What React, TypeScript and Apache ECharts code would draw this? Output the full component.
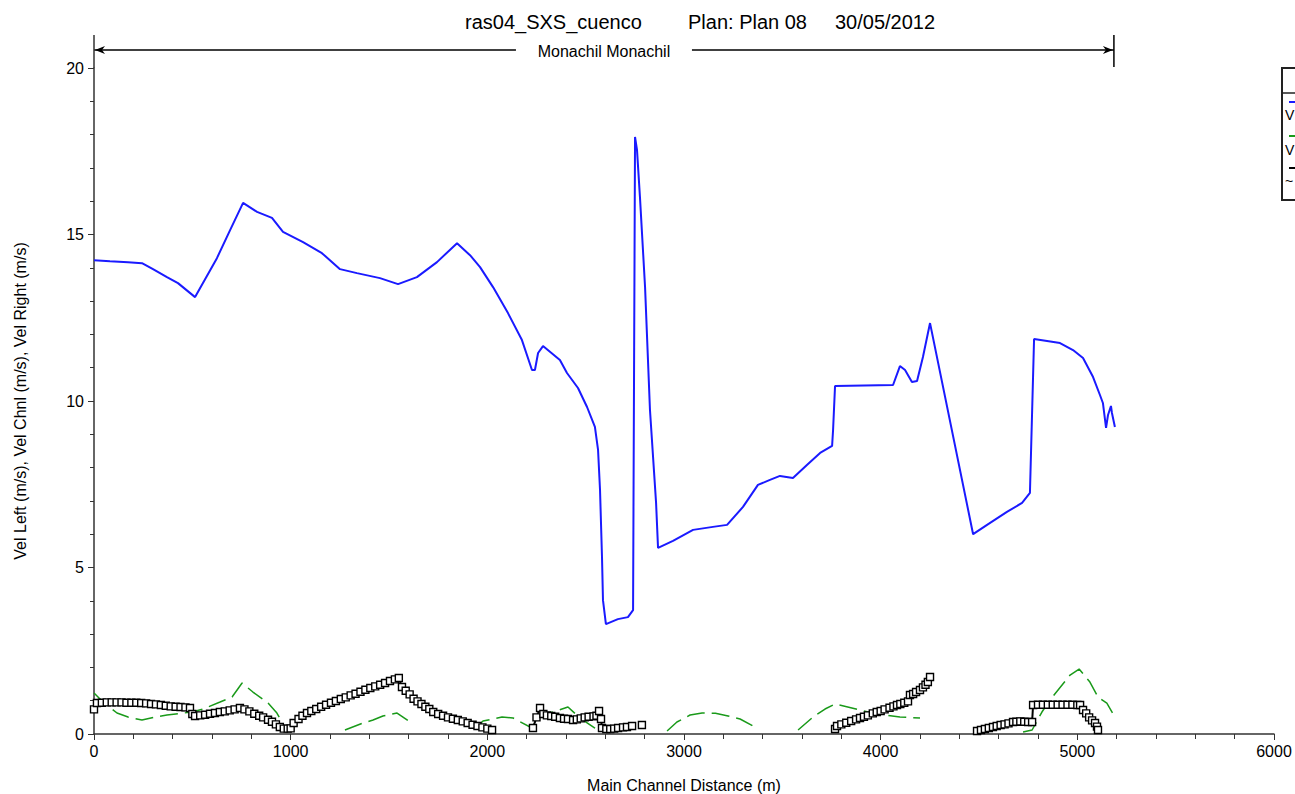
import React, { useEffect, useRef } from "react";
import * as echarts from "echarts";

const FONT = "'Liberation Sans', Arial, sans-serif";

const titleParts = ["ras04_SXS_cuenco", "Plan: Plan 08", "30/05/2012"];
const reachName = "Monachil Monachil";
const reachStart = 0;
const reachEnd = 5186;

// Vel Chnl (blue)
const chnlX = [0, 81, 173, 244, 300, 371, 427, 514, 625, 692, 758, 829, 905, 961, 1063, 1159, 1251, 1337, 1454, 1546, 1642, 1744, 1846, 1912, 1963, 2029, 2105, 2176, 2227, 2242, 2258, 2283, 2369, 2405, 2461, 2507, 2547, 2563, 2573, 2583, 2588, 2603, 2664, 2715, 2741, 2751, 2761, 2776, 2802, 2827, 2858, 2868, 2944, 3046, 3147, 3219, 3300, 3376, 3437, 3488, 3554, 3625, 3692, 3753, 3758, 3768, 4063, 4098, 4124, 4159, 4185, 4215, 4251, 4470, 4541, 4642, 4719, 4759, 4780, 4846, 4912, 4978, 5029, 5080, 5115, 5130, 5146, 5156, 5171, 5176, 5191];
const chnlY = [14.23, 14.2, 14.17, 14.14, 13.96, 13.72, 13.54, 13.12, 14.29, 15.13, 15.95, 15.68, 15.5, 15.08, 14.77, 14.44, 13.96, 13.84, 13.69, 13.51, 13.72, 14.17, 14.74, 14.38, 14.02, 13.42, 12.64, 11.83, 10.93, 10.93, 11.44, 11.65, 11.23, 10.84, 10.39, 9.82, 9.22, 8.53, 7.33, 5.32, 4.02, 3.3, 3.45, 3.51, 3.72, 17.93, 17.54, 16.13, 13.42, 9.73, 6.94, 5.59, 5.8, 6.13, 6.22, 6.28, 6.82, 7.48, 7.63, 7.75, 7.69, 8.08, 8.44, 8.65, 9.13, 10.45, 10.48, 11.05, 10.93, 10.57, 10.6, 11.32, 12.34, 6.0, 6.28, 6.67, 6.94, 7.24, 11.86, 11.8, 11.74, 11.53, 11.29, 10.72, 10.18, 9.94, 9.19, 9.58, 9.85, 9.64, 9.22];

// Vel Left (green dashed), null = gap
const leftX = [0, 46, 117, 173, 244, 310, 371, 498, 554, 641, 702, 753, 808, 885, 930, 956, 1100, 1276, 1368, 1419, 1469, 1541, 1607, 1780, 1937, 1978, 2075, 2131, 2227, 2258, 2334, 2410, 2471, 2547, 2583, 2640, 2700, 2741, 2830, 2914, 2964, 3031, 3092, 3160, 3224, 3285, 3361, 3470, 3580, 3656, 3717, 3768, 3895, 3981, 4098, 4200, 4460, 4724, 4770, 4820, 4861, 4963, 5009, 5064, 5105, 5150, 5191];
const leftY = [1.23, 0.96, 0.63, 0.51, 0.42, 0.51, 0.57, 0.66, 0.75, 0.96, 1.11, 1.53, 1.26, 0.93, 0.63, 0.36, null, 0.12, 0.33, 0.42, 0.54, 0.63, 0.36, null, 0.15, 0.39, 0.51, 0.48, 0.18, 0.57, 0.66, 0.81, 0.48, 0.18, 0.08, 0.12, 0.2, 0.24, null, 0.09, 0.36, 0.57, 0.63, 0.62, 0.54, 0.45, 0.21, null, 0.12, 0.51, 0.75, 0.9, 0.72, 0.6, 0.51, 0.48, null, 0.06, 0.12, 0.66, 1.02, 1.77, 1.95, 1.56, 1.11, 0.93, 0.51];

// Vel Right (black squares), null = gap
const rightX = [0, 15, 40, 65, 90, 115, 140, 165, 190, 215, 240, 265, 290, 315, 340, 365, 390, 415, 440, 465, 488, 500, 514, 540, 565, 590, 615, 640, 665, 690, 715, 742, 765, 790, 815, 840, 860, 885, 905, 925, 945, 965, 985, 1000, 1015, 1040, 1060, 1083, 1105, 1130, 1155, 1180, 1205, 1230, 1255, 1280, 1305, 1330, 1355, 1380, 1405, 1430, 1455, 1480, 1505, 1530, 1550, 1566, 1585, 1605, 1625, 1645, 1665, 1685, 1705, 1725, 1750, 1775, 1800, 1825, 1850, 1875, 1900, 1925, 1950, 1975, 2000, 2024,
  2130,
  2232, 2250, 2268, 2285, 2303, 2325, 2345, 2369, 2390, 2410, 2436, 2455, 2475, 2495, 2515, 2540, 2555, 2568, 2578, 2583, 2605, 2625, 2645, 2665, 2690, 2710, 2736,
  2760, 2786, 3300,
  3768, 3778, 3800, 3825, 3850, 3875, 3895, 3915, 3935, 3960, 3980, 4000, 4020, 4045, 4065, 4083, 4100, 4120, 4139, 4149, 4165, 4180, 4200, 4215, 4228, 4240, 4251,
  4370,
  4490, 4510, 4530, 4550, 4571, 4590, 4610, 4630, 4650, 4673, 4690, 4710, 4730, 4750, 4770, 4775, 4800, 4825, 4850, 4875, 4900, 4925, 4950, 4975, 5000, 5014, 5029, 5045, 5060, 5075, 5090, 5100, 5105];
const rightY = [0.74, 0.93, 0.94, 0.95, 0.95, 0.95, 0.95, 0.94, 0.94, 0.94, 0.93, 0.92, 0.9, 0.89, 0.87, 0.85, 0.83, 0.82, 0.81, 0.8, 0.78, 0.6, 0.54, 0.56, 0.58, 0.61, 0.63, 0.66, 0.68, 0.71, 0.74, 0.78, 0.74, 0.68, 0.61, 0.55, 0.5, 0.43, 0.37, 0.29, 0.21, 0.16, 0.16, 0.17, 0.33, 0.45, 0.55, 0.63, 0.69, 0.75, 0.82, 0.88, 0.94, 0.99, 1.05, 1.1, 1.16, 1.21, 1.27, 1.33, 1.38, 1.43, 1.48, 1.53, 1.59, 1.64, 1.68, 1.41, 1.3, 1.19, 1.06, 0.98, 0.9, 0.82, 0.75, 0.66, 0.6, 0.55, 0.5, 0.46, 0.42, 0.38, 0.33, 0.28, 0.24, 0.2, 0.16, 0.12,
  null,
  0.18, 0.5, 0.78, 0.6, 0.56, 0.54, 0.52, 0.48, 0.46, 0.45, 0.42, 0.44, 0.47, 0.5, 0.52, 0.53, 0.55, 0.69, 0.45, 0.18, 0.15, 0.15, 0.16, 0.18, 0.2, 0.21, 0.24,
  null, 0.27, null,
  0.15, 0.24, 0.29, 0.34, 0.39, 0.44, 0.48, 0.52, 0.56, 0.62, 0.66, 0.69, 0.74, 0.79, 0.83, 0.87, 0.9, 0.94, 0.98, 1.17, 1.2, 1.26, 1.32, 1.4, 1.48, 1.56, 1.71,
  null,
  0.09, 0.12, 0.15, 0.18, 0.21, 0.24, 0.27, 0.29, 0.32, 0.36, 0.37, 0.38, 0.37, 0.36, 0.36, 0.87, 0.88, 0.88, 0.88, 0.88, 0.88, 0.88, 0.88, 0.88, 0.87, 0.87, 0.72, 0.62, 0.5, 0.41, 0.33, 0.22, 0.12];

const pairs = (xs: number[], ys: (number | null)[]) =>
  xs.map((x, i) => [x, ys[i] === null ? "-" : ys[i]]);

export default function App() {
  const ref = useRef<HTMLDivElement>(null);
  useEffect(() => {
    if (!ref.current) return;
    document.body.style.margin = "0";
    document.body.style.overflow = "hidden";
    const chart = echarts.init(ref.current, null, { renderer: "svg" });
    const axisLine = { show: true, lineStyle: { color: "#333", width: 1.5 } };
    const tickStyle = { color: "#333" };
    const labelStyle = { fontFamily: FONT, fontSize: 16, color: "#000" };
    chart.setOption({
      animation: false,
      backgroundColor: "#fff",
      grid: { left: 94, right: 21, top: 68, bottom: 60, outerBoundsMode: "none", containLabel: false },
      xAxis: {
        type: "value",
        min: 0,
        max: 6000,
        interval: 1000,
        name: "Main Channel Distance (m)",
        nameLocation: "middle",
        nameGap: 43,
        nameTextStyle: labelStyle,
        axisLine,
        axisTick: { show: true, inside: false, length: 6, lineStyle: tickStyle },
        minorTick: { show: true, splitNumber: 5, length: 5, lineStyle: tickStyle },
        splitLine: { show: false },
        axisLabel: { ...labelStyle, margin: 9, formatter: (v: number) => String(v) },
      },
      yAxis: {
        type: "value",
        min: 0,
        max: 20,
        interval: 5,
        name: "Vel Left (m/s), Vel Chnl (m/s), Vel Right (m/s)",
        nameLocation: "middle",
        nameGap: 66,
        nameRotate: 90,
        nameTextStyle: labelStyle,
        axisLine,
        axisTick: { show: true, inside: false, length: 6, lineStyle: tickStyle },
        minorTick: { show: true, splitNumber: 5, length: 4, lineStyle: tickStyle },
        splitLine: { show: false },
        axisLabel: { ...labelStyle, margin: 10, formatter: (v: number) => String(v) },
      },
      series: [
        {
          name: "Vel Chnl",
          type: "line",
          data: pairs(chnlX, chnlY),
          showSymbol: false,
          symbol: "none",
          lineStyle: { color: "#1a1aff", width: 2 },
          z: 3,
        },
        {
          name: "Vel Left",
          type: "line",
          data: pairs(leftX, leftY),
          showSymbol: false,
          symbol: "none",
          connectNulls: false,
          lineStyle: { color: "#1a9a1a", width: 1.5, type: [18, 7] },
          z: 2,
        },
        {
          name: "Vel Right",
          type: "line",
          data: pairs(rightX, rightY),
          symbol: "rect",
          symbolSize: 7,
          showAllSymbol: true,
          connectNulls: false,
          itemStyle: { color: "#fff", borderColor: "#000", borderWidth: 1.4 },
          lineStyle: { color: "#000", width: 2 },
          z: 4,
        },
      ],
    });

    const xa = chart.convertToPixel({ xAxisIndex: 0 }, reachStart) as number;
    const xb = chart.convertToPixel({ xAxisIndex: 0 }, reachEnd) as number;
    const mid = (xa + xb) / 2;
    const ay = 50;
    const textHalf = 88;
    chart.setOption({
      graphic: [
        { type: "text", left: 465, top: 12, style: { text: titleParts[0], font: `20px ${FONT}`, fill: "#000" } },
        { type: "text", left: 688, top: 12, style: { text: titleParts[1], font: `20px ${FONT}`, fill: "#000" } },
        { type: "text", left: 835, top: 12, style: { text: titleParts[2], font: `20px ${FONT}`, fill: "#000" } },
        { type: "line", shape: { x1: xa, y1: ay, x2: mid - textHalf, y2: ay }, style: { stroke: "#000", lineWidth: 1.3 } },
        { type: "line", shape: { x1: mid + textHalf, y1: ay, x2: xb, y2: ay }, style: { stroke: "#000", lineWidth: 1.3 } },
        { type: "line", shape: { x1: xa, y1: 35, x2: xa, y2: 68 }, style: { stroke: "#333", lineWidth: 1.5 } },
        { type: "line", shape: { x1: xb, y1: 35, x2: xb, y2: 67 }, style: { stroke: "#000", lineWidth: 1.5 } },
        { type: "polygon", shape: { points: [[xa + 1, ay], [xa + 11, ay - 4], [xa + 8, ay], [xa + 11, ay + 4]] }, style: { fill: "#000" } },
        { type: "polygon", shape: { points: [[xb - 1, ay], [xb - 11, ay - 4], [xb - 8, ay], [xb - 11, ay + 4]] }, style: { fill: "#000" } },
        { type: "text", x: mid, y: ay + 1, style: { text: reachName, font: `16px ${FONT}`, fill: "#000", align: "center", verticalAlign: "middle" } },
        // legend box (clipped at right edge)
        { type: "rect", shape: { x: 1282, y: 68, width: 60, height: 132 }, style: { fill: "#fff", stroke: "#222", lineWidth: 2 } },
        { type: "line", shape: { x1: 1282, y1: 93, x2: 1300, y2: 93 }, style: { stroke: "#222", lineWidth: 1.5 } },
        { type: "line", shape: { x1: 1289, y1: 102, x2: 1300, y2: 102 }, style: { stroke: "#1a1aff", lineWidth: 2 } },
        { type: "text", x: 1285, y: 108, style: { text: "V", font: `14px ${FONT}`, fill: "#000" } },
        { type: "line", shape: { x1: 1289, y1: 136, x2: 1300, y2: 136 }, style: { stroke: "#1a9a1a", lineWidth: 2 } },
        { type: "text", x: 1285, y: 143, style: { text: "V", font: `14px ${FONT}`, fill: "#000" } },
        { type: "line", shape: { x1: 1289, y1: 168, x2: 1300, y2: 168 }, style: { stroke: "#000", lineWidth: 2 } },
        { type: "text", x: 1285, y: 174, style: { text: "~", font: `14px ${FONT}`, fill: "#000" } },
      ],
    });

    return () => chart.dispose();
  }, []);
  return <div ref={ref} style={{ position: "fixed", left: 0, top: 0, width: 1295, height: 794 }} />;
}
